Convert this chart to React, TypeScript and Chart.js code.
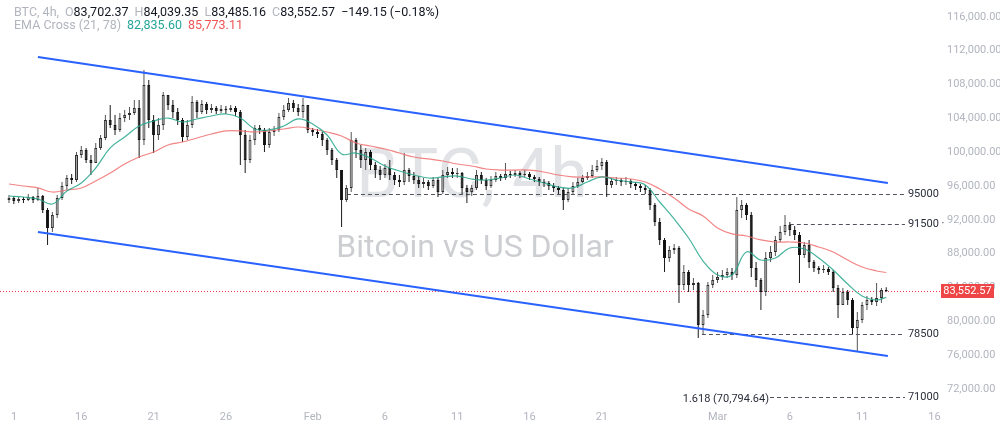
import React, { useEffect, useRef } from 'react';
import { Chart, registerables } from 'chart.js';

Chart.register(...registerables);

// ---------- DATA ----------
// 8h candles starting Jan 10 (day index 10 = Jan 11 position on axis)
const START_DAY = 10;
const CANDLES_PER_DAY = 3;
const FIRST_OPEN = 94350;

const closes = [
  94580, 94230, 94460, 94350, 94700, 94350, 94820, 93160, 91030, 92570,
  94580, 96000, 96950, 96710, 99670, 100260, 99080, 98720, 100500, 101680,
  103810, 103220, 102630, 104040, 104400, 104640, 105230, 101440, 107950, 103810,
  102030, 103220, 106760, 105580, 104750, 103810, 101800, 103220, 105940, 104750,
  105700, 104990, 105230, 104870, 105110, 104990, 105230, 104750, 102030, 99080,
  101440, 102860, 102630, 100850, 102390, 102630, 104160, 104990, 105820, 105230,
  104750, 105580, 102630, 102390, 102150, 101440, 100260, 99080, 97890, 94350,
  95770, 101440, 100260, 99080, 100020, 98490, 97890, 97300, 98130, 97300,
  96710, 96480, 97890, 97180, 96710, 96240, 96480, 96000, 96710, 95290,
  97300, 97660, 97420, 97540, 95770, 95290, 95770, 97300, 96710, 96000,
  96710, 97180, 96950, 97420, 97300, 97540, 97300, 97420, 97070, 96830,
  96480, 96360, 96000, 95770, 95530, 94350, 95290, 96000, 96480, 96950,
  97180, 97890, 98370, 98840, 96120, 96590, 96710, 96480, 96590, 96240,
  96000, 95770, 95530, 93750, 91740, 89620, 87490, 88430, 88670, 84290,
  85830, 84290, 84530, 79560, 80740, 84290, 84880, 85240, 85480, 85830,
  85480, 93160, 93750, 92570, 86300, 84880, 83470, 87490, 88200, 89620,
  90560, 91390, 90800, 90210, 87840, 89020, 87010, 86300, 86070, 86190,
  85830, 83940, 81930, 83470, 82520, 79210, 80150, 81930, 82520, 82280,
  82760, 83702.37, 83552.57,
];

const highs = [
  94940, 94820, 94700, 94700, 95060, 94820, 95770, 94940, 93400, 92930,
  94940, 96480, 97300, 97420, 100020, 100730, 100500, 99670, 101090, 102030,
  104400, 105580, 104400, 104640, 104990, 105350, 106170, 106170, 109720, 108540,
  104400, 104040, 107120, 106760, 106170, 105230, 104040, 103810, 106650, 106170,
  106170, 105940, 105700, 105460, 105580, 105460, 105580, 105460, 104990, 102630,
  102030, 103220, 103220, 102860, 102860, 103100, 104640, 105580, 106410, 106170,
  105700, 106410, 105580, 102860, 102740, 102390, 101680, 100500, 99310, 97890,
  96120, 102390, 101680, 100850, 100500, 100260, 98840, 98370, 98600, 99080,
  97660, 97300, 99900, 98130, 97660, 97180, 96950, 96710, 97070, 96950,
  97890, 98250, 98130, 98130, 97660, 96120, 96120, 97890, 97660, 96950,
  97180, 97660, 97420, 98720, 97780, 97890, 97780, 97890, 97660, 97300,
  97070, 96830, 96590, 96360, 96000, 95770, 95770, 96480, 96950, 97300,
  97660, 98490, 99080, 99310, 99080, 96950, 97070, 96950, 97070, 96830,
  96480, 96240, 96120, 95770, 93990, 92220, 89850, 88910, 89140, 88910,
  86660, 86070, 85120, 84650, 81340, 84650, 85480, 85830, 86070, 86300,
  86300, 94700, 94350, 93990, 92930, 87010, 85120, 88200, 88910, 90090,
  91270, 92570, 91740, 91270, 90560, 89380, 89620, 87250, 86540, 86660,
  86420, 86070, 84290, 83940, 83700, 82760, 81100, 82280, 82990, 82870,
  84530, 83940, 84039.35,
];

const lows = [
  93990, 93870, 93990, 93990, 94230, 93990, 94230, 92810, 89020, 90560,
  92220, 94350, 95530, 96240, 96480, 99310, 98720, 97300, 98720, 100260,
  101440, 102860, 102030, 102390, 103570, 103810, 104400, 99310, 100850, 102860,
  99900, 101440, 102630, 104990, 104040, 103220, 101210, 101440, 102860, 104040,
  104520, 104520, 104640, 104520, 104640, 104520, 104750, 104280, 98490, 97540,
  98720, 100850, 102150, 100020, 100500, 101920, 102390, 103810, 104750, 104750,
  104280, 104040, 102270, 101920, 101680, 100730, 99670, 98490, 96950, 91150,
  94110, 95290, 99310, 98130, 97890, 97890, 96950, 96710, 96950, 96710,
  96120, 95880, 96120, 96480, 96240, 95770, 95770, 95530, 95770, 94700,
  95060, 96950, 96950, 96950, 95060, 93990, 94820, 95530, 96240, 95530,
  95770, 96480, 96590, 96710, 96950, 97070, 96950, 97070, 96710, 96480,
  96000, 95880, 95530, 95290, 95060, 93160, 94110, 95060, 95770, 96360,
  96710, 96950, 97660, 97890, 94700, 95770, 96120, 96000, 96120, 95770,
  95530, 95290, 95060, 93160, 91270, 89020, 85830, 87010, 87960, 82160,
  83700, 83470, 83700, 78030, 78380, 80390, 83940, 84530, 84880, 85120,
  84880, 85120, 92220, 91980, 85240, 84060, 81340, 82990, 87010, 87720,
  89380, 90210, 90090, 89620, 84530, 87490, 86300, 85830, 85590, 85710,
  85480, 83470, 80390, 81930, 81930, 78500, 76370, 79800, 81340, 81930,
  81810, 82160, 83485.16,
];

// EMA values sampled once per day (day 10..70) plus the last candle
const emaFast = [
  94820, 94700, 94460, 93870, 95410, 96360, 98130, 100500, 101800, 103100,
  103690, 104040, 103570, 103930, 104280, 104520, 104040, 102740, 102630, 103100,
  103930, 103340, 102030, 99790, 99900, 99310, 98370, 97780, 97300, 96950,
  97070, 97180, 96830, 96710, 96950, 97300, 96830, 96360, 95880, 95770,
  96480, 97070, 96710, 96480, 96120, 94110, 92100, 89850, 87130, 85480,
  85480, 88200, 87250, 87490, 88670, 88550, 87490, 86070, 84410, 82990,
  82520, 82835.6,
];
const emaSlow = [
  96240, 96000, 95770, 95290, 95530, 95770, 96590, 97540, 98600, 99430,
  100020, 100850, 101210, 101680, 102150, 102510, 102510, 102390, 102510, 102740,
  102980, 102740, 102390, 101920, 101090, 100730, 100380, 99900, 99430, 99200,
  98960, 98600, 98370, 98010, 97890, 97890, 97890, 97660, 97300, 97070,
  97070, 97070, 96950, 96830, 96480, 95650, 94580, 93280, 92450, 91030,
  90330, 90090, 89620, 89380, 89380, 89260, 88790, 88200, 87250, 86420,
  85950, 85773.11,
];

const channelDays = [12.0, 70.78];
const channelUpper = [111260, 96360];
const channelLower = [90560, 75900];

const xTickDays = [10.35, 15, 20, 25, 31, 36, 41, 46, 51, 59, 64, 69, 74];
const xTickLabels = ['1', '16', '21', '26', 'Feb', '6', '11', '16', '21', 'Mar', '6', '11', '16'];
const yTicks = [72000, 76000, 80000, 84000, 88000, 92000, 96000, 100000, 104000, 108000, 112000, 116000];

const levelPrices = [95000, 91500, 78500, 71000];
const levelFromDays = [33.37, 64.0, 57.92, 62.63];
const levelToDay = 71.96;
const levelLabels = ['95000', '91500 ·', '78500', '71000'];
const fibLabel = '1.618 (70,794.64)';

const lastPrice = 83552.57;
const watermarkTitle = 'BTC, 4h';
const watermarkSubtitle = 'Bitcoin vs US Dollar';

// ---------- DERIVED ----------
const opens = closes.map((_, i) => (i === 0 ? FIRST_OPEN : closes[i - 1]));
const candleDays = closes.map((_, i) => START_DAY + i / CANDLES_PER_DAY);
const lastDay = candleDays[candleDays.length - 1];
const emaDays = emaFast.map((_, i) => (i < emaFast.length - 1 ? START_DAY + i : lastDay));
const isUp = closes.map((c, i) => c >= opens[i]);

const fmt2 = (v: number) =>
  v.toLocaleString('en-US', { minimumFractionDigits: 2, maximumFractionDigits: 2 });

const FONT = 'Roboto, "Noto Sans", sans-serif';
const GRAY = '#b2b5be';

const overlayPlugin = {
  id: 'overlay',
  beforeDatasetsDraw(chart: any) {
    const { ctx, chartArea: a, scales } = chart;
    const xs = scales.x;
    const ys = scales.y;
    ctx.save();
    // watermark
    const cx = (a.left + a.right) / 2 + 2;
    ctx.textAlign = 'center';
    ctx.textBaseline = 'alphabetic';
    ctx.fillStyle = '#e2e3e6';
    ctx.font = `68px ${FONT}`;
    ctx.fillText(watermarkTitle, cx, 197);
    ctx.fillStyle = '#cdced2';
    ctx.font = `32px ${FONT}`;
    ctx.fillText(watermarkSubtitle, cx + 3, 257);

    // last price dotted line
    const py = Math.round(ys.getPixelForValue(lastPrice)) + 0.5;
    ctx.strokeStyle = '#f23645';
    ctx.lineWidth = 1;
    ctx.setLineDash([1, 2]);
    ctx.beginPath();
    ctx.moveTo(a.left, py);
    ctx.lineTo(a.right, py);
    ctx.stroke();

    // horizontal levels
    ctx.setLineDash([4, 3]);
    ctx.strokeStyle = '#50535e';
    ctx.font = `11px ${FONT}`;
    ctx.textBaseline = 'middle';
    levelPrices.forEach((p, i) => {
      const y = Math.round(ys.getPixelForValue(p)) + 0.5;
      const x0 = xs.getPixelForValue(levelFromDays[i]);
      const x1 = xs.getPixelForValue(levelToDay);
      ctx.beginPath();
      ctx.moveTo(x0, y);
      ctx.lineTo(x1, y);
      ctx.stroke();
      ctx.fillStyle = '#2a2e39';
      ctx.textAlign = 'left';
      ctx.fillText(levelLabels[i], x1 + 3, y);
      if (i === levelPrices.length - 1) {
        ctx.textAlign = 'right';
        ctx.fillText(fibLabel, x0 - 1, y + 2);
      }
    });
    ctx.restore();
  },
  afterDraw(chart: any) {
    const { ctx, chartArea: a, scales } = chart;
    const py = scales.y.getPixelForValue(lastPrice);
    ctx.save();
    ctx.fillStyle = '#ee4646';
    ctx.fillRect(a.right + 1, Math.round(py) - 7, 53, 14);
    ctx.fillStyle = '#ffffff';
    ctx.font = `11px ${FONT}`;
    ctx.textAlign = 'center';
    ctx.textBaseline = 'middle';
    ctx.fillText(fmt2(lastPrice), a.right + 27.5, Math.round(py) + 0.5);
    ctx.restore();
  },
};

export default function App() {
  const ref = useRef<HTMLCanvasElement | null>(null);

  useEffect(() => {
    const canvas = ref.current;
    if (!canvas) return;
    const wickData = candleDays.map((d, i) => ({ x: d, y: [lows[i], highs[i]] }));
    const bodyData = candleDays.map((d, i) => ({ x: d, y: [opens[i], closes[i]] }));

    const chart = new Chart(canvas, {
      type: 'bar',
      data: {
        datasets: [
          {
            type: 'line',
            data: channelDays.map((d, i) => ({ x: d, y: channelUpper[i] })),
            borderColor: '#2962ff',
            borderWidth: 2,
            pointRadius: 0,
            order: 1,
          } as any,
          {
            type: 'line',
            data: channelDays.map((d, i) => ({ x: d, y: channelLower[i] })),
            borderColor: '#2962ff',
            borderWidth: 2,
            pointRadius: 0,
            order: 1,
          } as any,
          {
            type: 'line',
            data: emaDays.map((d, i) => ({ x: d, y: emaFast[i] })),
            borderColor: 'rgba(38,166,140,0.85)',
            borderWidth: 1.2,
            pointRadius: 0,
            tension: 0.4,
            order: 2,
          } as any,
          {
            type: 'line',
            data: emaDays.map((d, i) => ({ x: d, y: emaSlow[i] })),
            borderColor: 'rgba(240,110,110,0.85)',
            borderWidth: 1.2,
            pointRadius: 0,
            tension: 0.4,
            order: 2,
          } as any,
          {
            type: 'bar',
            data: bodyData,
            backgroundColor: isUp.map((u) => (u ? '#a6a6a6' : '#111111')),
            borderColor: isUp.map((u) => (u ? '#2e2e2e' : '#111111')),
            borderWidth: 1,
            borderSkipped: false,
            barThickness: 3,
            minBarLength: 1,
            grouped: false,
            inflateAmount: 0,
            order: 3,
          } as any,
          {
            type: 'bar',
            data: wickData,
            backgroundColor: isUp.map((u) => (u ? '#555555' : '#1a1a1a')),
            borderWidth: 0,
            barThickness: 1,
            grouped: false,
            inflateAmount: 0,
            order: 4,
          } as any,
        ],
      },
      options: {
        responsive: false,
        devicePixelRatio: 1,
        animation: false,
        events: [],
        layout: { padding: 0 },
        plugins: { legend: { display: false }, tooltip: { enabled: false } },
        scales: {
          x: {
            type: 'linear',
            min: 9.378,
            max: 74.385,
            bounds: 'data',
            offset: false,
            grid: { display: false, drawTicks: false },
            border: { display: false },
            ticks: {
              autoSkip: false,
              maxRotation: 0,
              padding: 6,
              color: GRAY,
              font: { size: 11, family: FONT },
              callback: (_v: any, i: number) => xTickLabels[i],
            },
            afterBuildTicks: (s: any) => {
              s.ticks = xTickDays.map((v) => ({ value: v }));
            },
            afterFit: (s: any) => {
              s.height = 33;
              s.paddingLeft = 0;
              s.paddingRight = 0;
            },
          },
          y: {
            type: 'linear',
            position: 'right',
            min: 70100,
            max: 118000,
            bounds: 'data',
            grid: { display: false, drawTicks: false },
            border: { display: false },
            ticks: {
              padding: 7,
              color: GRAY,
              font: { size: 11, family: FONT },
              callback: (v: any) => fmt2(Number(v)),
            },
            afterBuildTicks: (s: any) => {
              s.ticks = yTicks.map((v) => ({ value: v }));
            },
            afterFit: (s: any) => {
              s.width = 60;
              s.paddingTop = 0;
              s.paddingBottom = 0;
            },
          },
        },
      } as any,
      plugins: [overlayPlugin],
    });
    return () => chart.destroy();
  }, []);

  const dark = '#131722';
  const sp = { marginRight: 6 };
  return (
    <div
      style={{
        position: 'absolute',
        left: 0,
        top: 0,
        width: 1000,
        height: 438,
        background: '#ffffff',
        overflow: 'hidden',
      }}
    >
      <canvas ref={ref} width={1000} height={438} style={{ display: 'block', width: 1000, height: 438 }} />
      <div
        style={{
          position: 'absolute',
          left: 14,
          top: 5,
          font: `12.5px ${FONT}`,
          lineHeight: '13px',
          whiteSpace: 'nowrap',
          color: dark,
        }}
      >
        <div>
          <span style={{ ...sp, color: GRAY }}>BTC, 4h,</span>
          <span style={{ color: GRAY }}>O</span>
          <span style={sp}>83,702.37</span>
          <span style={{ color: GRAY }}>H</span>
          <span style={sp}>84,039.35</span>
          <span style={{ color: GRAY }}>L</span>
          <span style={sp}>83,485.16</span>
          <span style={{ color: GRAY }}>C</span>
          <span style={sp}>83,552.57</span>
          <span>−149.15 (−0.18%)</span>
        </div>
        <div>
          <span style={{ ...sp, color: GRAY }}>EMA Cross (21, 78)</span>
          <span style={{ ...sp, color: '#26a69a' }}>82,835.60</span>
          <span style={{ color: '#f05454' }}>85,773.11</span>
        </div>
      </div>
    </div>
  );
}
